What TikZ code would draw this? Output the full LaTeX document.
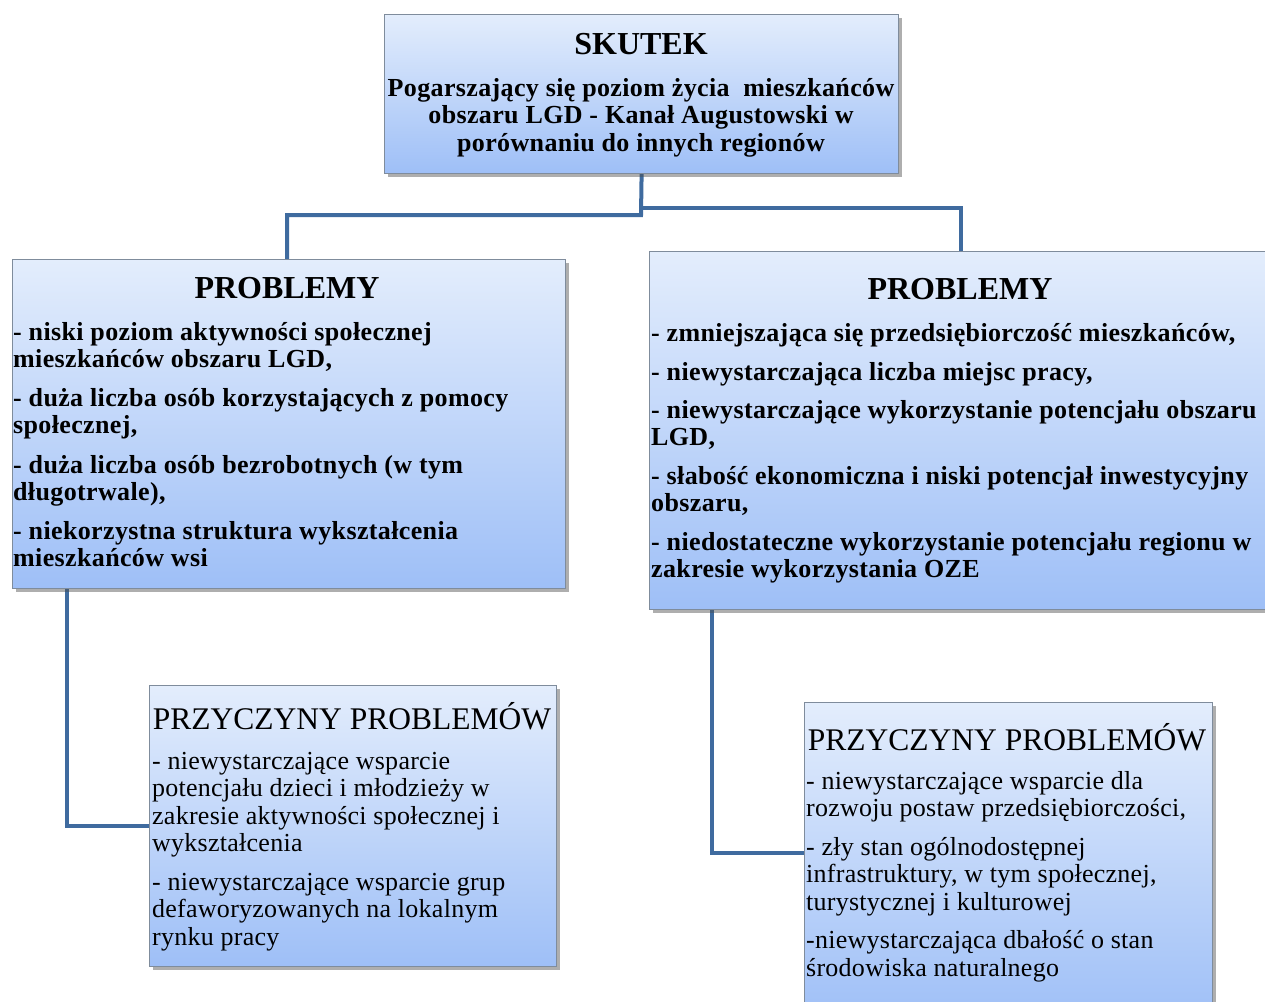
\documentclass[tikz,border=0pt]{standalone}
\usepackage{fontspec}
\setmainfont{Liberation Serif}
\usetikzlibrary{shadows}
\pgfdeclarelayer{background}
\pgfsetlayers{background,main}
\definecolor{boxtop}{HTML}{E3EDFC}
\definecolor{boxbot}{HTML}{9EBFF7}
\definecolor{boxline}{HTML}{7F8C9C}
\definecolor{conn}{HTML}{3F6B9F}
\tikzset{
  box/.style={draw=boxline, line width=1.2pt, top color=boxtop, bottom color=boxbot,
    anchor=north west, inner sep=0pt,
    drop shadow={shadow xshift=3pt, shadow yshift=-3pt, opacity=0.45, fill=black!70}},
  conline/.style={draw=conn, line width=4pt},
  boldtxt/.style={font=\fontsize{26}{27}\selectfont\bfseries\addfontfeature{LetterSpace=1.4}, align=left, inner sep=0pt, anchor=north west},
  regtxt/.style={font=\fontsize{26}{27.5}\selectfont\addfontfeature{LetterSpace=1}, align=left, inner sep=0pt, anchor=north west},
  btitle/.style={font=\fontsize{32}{34}\selectfont\bfseries, inner sep=0pt},
  rtitle/.style={font=\fontsize{31.5}{34}\selectfont, inner sep=0pt}
}
\begin{document}
\begin{tikzpicture}[x=1pt,y=-1pt]
\useasboundingbox (0,0) rectangle (1265,1001);
\begin{scope}
\clip (0,0) rectangle (1265,1001);
\node[box, minimum width=514pt, minimum height=159pt] (skutek) at (384,14) {};
\node[box, minimum width=553pt, minimum height=329pt] (probL) at (12,259) {};
\node[box, minimum width=630pt, minimum height=358pt] (probR) at (649,251) {};
\node[box, minimum width=407pt, minimum height=281pt] (przL) at (149,685) {};
\node[box, minimum width=408pt, minimum height=320pt] (przR) at (804,702) {};

\coordinate (j1) at (641,215);
\coordinate (j2) at (641,208);
\coordinate (bL) at (67,588);
\coordinate (bR) at (712,609);
\begin{pgfonlayer}{background}
\draw[conline] (skutek.south) -- (j1) -| (probL.north -| 287,0);
\draw[conline] (j2) -| (probR.north -| 961,0);
\draw[conline] (probL.south -| bL) |- (przL.west |- 0,826);
\draw[conline] (probR.south -| bR) |- (przR.west |- 0,853);
\end{pgfonlayer}

% SKUTEK text
\node[btitle] (t0) at (641,44) {SKUTEK};
\node[font=\fontsize{26}{27.5}\selectfont\bfseries\addfontfeature{LetterSpace=1.4}, align=center, inner sep=0pt, anchor=north] (s0) at (641,78)
 {Pogarszający się poziom życia \ mieszkańców\\obszaru LGD - Kanał Augustowski w\\porównaniu do innych regionów};

% left PROBLEMY
\node[btitle] (t1) at (287,288) {PROBLEMY};
\node[boldtxt] (s1) at (13,322) {- niski poziom aktywności społecznej\\mieszkańców obszaru LGD,\\[12.5pt]
- duża liczba osób korzystających z pomocy\\społecznej,\\[12.5pt]
- duża liczba osób bezrobotnych (w tym\\długotrwale),\\[12.5pt]
- niekorzystna struktura wykształcenia\\mieszkańców wsi};

% right PROBLEMY
\node[btitle] (t2) at (960,289) {PROBLEMY};
\node[boldtxt] (s2) at (651,323) {- zmniejszająca się przedsiębiorczość mieszkańców,\\[12pt]
- niewystarczająca liczba miejsc pracy,\\[11.5pt]
- niewystarczające wykorzystanie potencjału obszaru\\LGD,\\[12pt]
- słabość ekonomiczna i niski potencjał inwestycyjny\\obszaru,\\[12pt]
- niedostateczne wykorzystanie potencjału regionu w\\zakresie wykorzystania OZE};

% left PRZYCZYNY
\node[rtitle] (t3) at (352,716) {PRZYCZYNY PROBLEMÓW};
\node[regtxt] (s3) at (152,752) {- niewystarczające wsparcie\\potencjału dzieci i młodzieży w\\zakresie aktywności społecznej i\\wykształcenia\\[11pt]
- niewystarczające wsparcie grup\\defaworyzowanych na lokalnym\\rynku pracy};

% right PRZYCZYNY
\node[rtitle] (t4) at (1007,737) {PRZYCZYNY PROBLEMÓW};
\node[regtxt] (s4) at (806,771) {- niewystarczające wsparcie dla\\rozwoju postaw przedsiębiorczości,\\[11pt]
- zły stan ogólnodostępnej\\infrastruktury, w tym społecznej,\\turystycznej i kulturowej\\[11pt]
-niewystarczająca dbałość o stan\\środowiska naturalnego};
\end{scope}
\end{tikzpicture}
\end{document}
